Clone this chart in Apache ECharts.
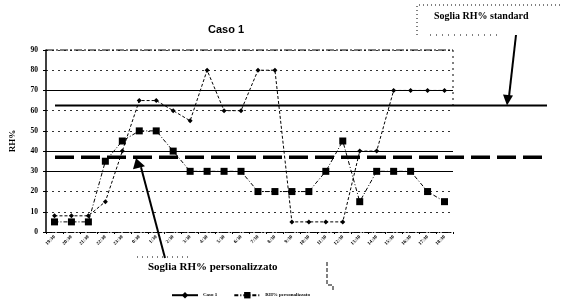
<!DOCTYPE html>
<html>
<head>
<meta charset="utf-8">
<script src="https://cdn.jsdelivr.net/npm/echarts@6/dist/echarts.min.js"></script>
<style>
  html, body { margin: 0; padding: 0; background: #fff; }
  #chart { width: 563px; height: 304px; }
</style>
</head>
<body>
<div id="chart"></div>
<script>
// hourly readings, 19:30 -> 18:30 next day
const categories = ['19:30', '20:30', '21:30', '22:30', '23:30', '0:30', '1:30', '2:30',
  '3:30', '4:30', '5:30', '6:30', '7:30', '8:30', '9:30', '10:30', '11:30', '12:30',
  '13:30', '14:30', '15:30', '16:30', '17:30', '18:30'];
const caso1 = [8, 8, 8, 15, 40, 65, 65, 60, 55, 80, 60, 60, 80, 80, 5, 5, 5, 5, 40, 40, 70, 70, 70, 70];
const personalizzato = [5, 5, 5, 35, 45, 50, 50, 40, 30, 30, 30, 30, 20, 20, 20, 20, 30, 45, 15, 30, 30, 30, 20, 15];
const yMin = 0;
const yMax = 90;
const yStep = 10;
const solidGrid = [70, 40, 30];
const sogliaStandard = 62.5;
const sogliaPersonalizzata = 37;

const serif = '"Liberation Serif", "DejaVu Serif", serif';
const sans = '"Liberation Sans", Arial, sans-serif';

const chart = echarts.init(document.getElementById('chart'), null, { renderer: 'canvas' });

chart.setOption({
  animation: false,
  backgroundColor: '#fff',
  title: {
    text: 'Caso 1',
    left: 203,
    top: 19,
    textStyle: { fontFamily: sans, fontSize: 11, fontWeight: 'bold', color: '#000' }
  },
  legend: {
    left: 166,
    top: 287,
    itemWidth: 26,
    itemHeight: 8,
    itemGap: 16,
    textStyle: { fontFamily: serif, fontSize: 5, fontWeight: 'bold', color: '#000', padding: [10, 0, 0, 0] },
    data: [
      { name: 'Caso 1', lineStyle: { type: 'solid' } },
      { name: 'RH% personalizzato' }
    ]
  },
  grid: { left: 46, right: 110, top: 50, bottom: 72 },
  xAxis: {
    type: 'category',
    data: categories,
    boundaryGap: true,
    axisLine: { lineStyle: { color: '#000', width: 1, type: [6, 2, 1, 2] } },
    axisTick: { show: true, length: 2, lineStyle: { color: '#000' } },
    axisLabel: {
      rotate: 45,
      fontSize: 5,
      fontWeight: 'bold',
      fontFamily: serif,
      color: '#000',
      margin: 4,
      interval: 0
    },
    splitLine: { show: false }
  },
  yAxis: {
    type: 'value',
    min: yMin,
    max: yMax,
    interval: yStep,
    name: 'RH%',
    nameLocation: 'middle',
    nameGap: 29,
    nameRotate: 90,
    nameTextStyle: { fontFamily: serif, fontSize: 9, fontWeight: 'bold', color: '#000' },
    axisLine: { show: true, lineStyle: { color: '#000', width: 1.5 } },
    axisTick: { show: true, length: 3, lineStyle: { color: '#000' } },
    axisLabel: { fontFamily: serif, fontSize: 7.5, fontWeight: 'bold', color: '#000', margin: 8 },
    splitLine: { show: true, lineStyle: { color: '#333', width: 1, type: [2, 4] } }
  },
  series: [
    {
      name: 'Caso 1',
      type: 'line',
      data: caso1,
      symbol: 'diamond',
      symbolSize: 5,
      itemStyle: { color: '#000' },
      lineStyle: { color: '#000', width: 1, type: [3, 2] },
      z: 4,
      markLine: {
        silent: true,
        symbol: 'none',
        label: { show: false },
        lineStyle: { color: '#000', width: 1, type: 'solid' },
        data: solidGrid.map(v => ({ yAxis: v }))
      }
    },
    {
      name: 'RH% personalizzato',
      type: 'line',
      data: personalizzato,
      symbol: 'rect',
      symbolSize: 7,
      itemStyle: { color: '#000' },
      lineStyle: { color: '#000', width: 1, type: [4, 2, 1, 2] },
      z: 5
    }
  ]
});

// threshold lines run past the plot area, so place them through the y scale
const yStd = chart.convertToPixel({ yAxisIndex: 0 }, sogliaStandard);
const yPers = chart.convertToPixel({ yAxisIndex: 0 }, sogliaPersonalizzata);
const yTop = chart.convertToPixel({ yAxisIndex: 0 }, yMax);

chart.setOption({
  graphic: [
    // top border of the plot, dash-dot
    { type: 'line', shape: { x1: 46, y1: yTop, x2: 453, y2: yTop },
      style: { stroke: '#000', lineWidth: 1, lineDash: [8, 2, 2, 2] }, z: 1 },
    { type: 'line', shape: { x1: 453, y1: yTop, x2: 453, y2: yStd },
      style: { stroke: '#000', lineWidth: 1, lineDash: [2, 4] }, z: 1 },
    // standard threshold
    { type: 'line', shape: { x1: 55, y1: yStd, x2: 547, y2: yStd },
      style: { stroke: '#000', lineWidth: 2 }, z: 10 },
    // personalized threshold
    { type: 'line', shape: { x1: 55, y1: yPers, x2: 548, y2: yPers },
      style: { stroke: '#000', lineWidth: 3.5, lineDash: [19, 7] }, z: 10 },

    // "Soglia RH% standard" callout
    { type: 'polyline', shape: { points: [[417, 35], [417, 5], [560, 5]] },
      style: { stroke: '#000', fill: null, lineWidth: 1, lineDash: [1, 3] }, z: 10 },
    { type: 'line', shape: { x1: 430, y1: 35, x2: 500, y2: 35 },
      style: { stroke: '#000', lineWidth: 1, lineDash: [1, 5] }, z: 10 },
    { type: 'text', left: 434, top: 11,
      style: { text: 'Soglia RH% standard', font: 'bold 10px ' + serif, fill: '#000' }, z: 11 },
    { type: 'line', shape: { x1: 516, y1: 35, x2: 509, y2: yStd - 9 },
      style: { stroke: '#000', lineWidth: 2 }, z: 11 },
    { type: 'polygon', shape: { points: [[503, yStd - 11], [513, yStd - 10], [507, yStd]] },
      style: { fill: '#000' }, z: 11 },

    // "Soglia RH% personalizzato" callout
    { type: 'line', shape: { x1: 137, y1: 257, x2: 190, y2: 257 },
      style: { stroke: '#000', lineWidth: 1, lineDash: [1, 4] }, z: 10 },
    { type: 'polyline', shape: { points: [[327, 262], [327, 285], [333, 285], [333, 290]] },
      style: { stroke: '#000', fill: null, lineWidth: 1, lineDash: [4, 2] }, z: 10 },
    { type: 'text', left: 148, top: 262,
      style: { text: 'Soglia RH% personalizzato', font: 'bold 11px ' + serif, fill: '#000' }, z: 11 },
    { type: 'line', shape: { x1: 165, y1: 258, x2: 141, y2: yPers + 10 },
      style: { stroke: '#000', lineWidth: 2 }, z: 11 },
    { type: 'polygon', shape: { points: [[133, yPers + 12], [145, yPers + 9], [136, yPers + 1]] },
      style: { fill: '#000' }, z: 11 }
  ]
});
</script>
</body>
</html>
